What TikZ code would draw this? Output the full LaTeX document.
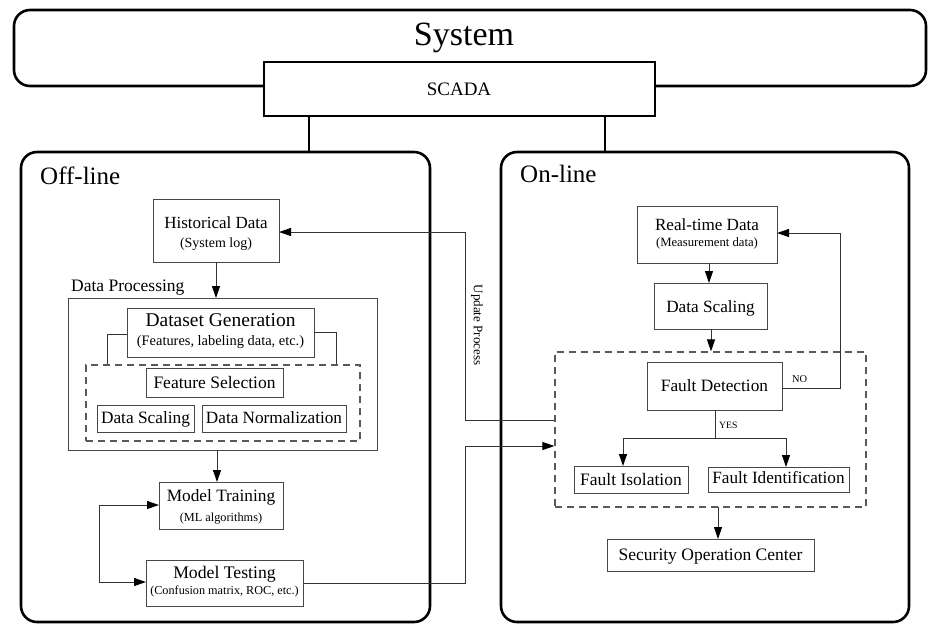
\documentclass[tikz,border=0pt]{standalone}
\usepackage{fontspec}
\setmainfont{Liberation Serif}
\usetikzlibrary{arrows.meta,fit}
\newcommand\fz[1]{\fontsize{#1}{#1}\selectfont}
\begin{document}
\begin{tikzpicture}[x=1pt,y=-1pt,
  outer/.style={draw=black, line width=2.6pt, rounded corners=16pt},
  bx/.style={draw=black!72, line width=1pt, inner sep=0pt, outer sep=0pt, fill=white},
  dbox/.style={draw=black!65, line width=1.2pt, dash pattern=on 7pt off 5pt, inner sep=0pt},
  conn/.style={draw=black!80, line width=1pt},
  arr/.style={conn, -{Triangle[length=12pt,width=8pt,black]}},
  darr/.style={conn, {Triangle[length=12pt,width=8pt,black]}-{Triangle[length=12pt,width=8pt,black]}},
  txt/.style={anchor=base, inner sep=0pt}]
\useasboundingbox (0,0) rectangle (928,625);

% outer structure
\node[outer, inner sep=0pt, fit={(14,10) (926,86)}] (sys) {};
\node[txt, font=\fz{34}] (systxt) at (464,45) {System};
\node[draw=black, line width=2.6pt, fill=white, inner sep=0pt, fit={(264,62) (655,116)}] (scada) {};
\node[txt, font=\fz{19}] (scadatxt) at (459,95) {SCADA};

\node[outer, inner sep=0pt, fit={(21,152) (430,622)}] (off) {};
\node[outer, inner sep=0pt, fit={(501,152) (909,622)}] (on) {};
\node[txt, anchor=base west, font=\fz{25}] (offtxt) at (40,184) {Off-line};
\node[txt, anchor=base west, font=\fz{25}] (ontxt) at (520,182) {On-line};

\coordinate (sl) at (309,116);
\coordinate (sr) at (605,116);
\draw[line width=2.2pt] (sl) -- (sl |- off.north);
\draw[line width=2.2pt] (sr) -- (sr |- on.north);

% off-line
\node[bx, fit={(153,199) (279,262)}] (hd) {};
\node[txt, font=\fz{17}] (hdt1) at (216,228) {Historical Data};
\node[txt, font=\fz{14}] (hdt2) at (216,247) {(System log)};

\node[txt, anchor=base west, font=\fz{17.5}] (dplab) at (71,291) {Data Processing};
\node[bx, fill=none, fit={(68,298) (377,450)}] (dp) {};
\node[dbox, fit={(86,365) (360,441)}] (dd) {};
\node[bx, fit={(127,308) (314,357)}] (dg) {};
\node[txt, font=\fz{19.5}] (dgt1) at (220.5,326) {Dataset Generation};
\node[txt, font=\fz{14.4}] (dgt2) at (220.5,345) {(Features, labeling data, etc.)};
\node[bx, fit={(146,368) (283,397)}] (fs) {};
\node[txt, font=\fz{17.5}] (fst) at (214.5,388) {Feature Selection};
\node[bx, fit={(97,405) (194,432)}] (ds) {};
\node[txt, font=\fz{17.3}] (dst) at (145.5,423) {Data Scaling};
\node[bx, fit={(202,405) (346,432)}] (dn) {};
\node[txt, font=\fz{17.2}] (dnt) at (274,423) {Data Normalization};

\coordinate (dgl) at (107,334);
\coordinate (dgr) at (336,332);
\draw[conn] (dgl -| dg.west) -- (dgl) -- (dgl |- dd.north);
\draw[conn] (dgr -| dg.east) -- (dgr) -- (dgr |- dd.north);

\draw[arr] (hd.south) -- (hd.south |- dp.north);

\node[bx, fit={(159,482) (283,529)}] (mt) {};
\node[txt, font=\fz{17.3}] (mtt1) at (221,501) {Model Training};
\node[txt, font=\fz{12.3}] (mtt2) at (221,521) {(ML algorithms)};
\node[bx, fit={(146,560) (303,606)}] (ms) {};
\node[txt, font=\fz{17.7}] (mst1) at (224.5,578) {Model Testing};
\node[txt, font=\fz{12.2}] (mst2) at (224.5,594) {(Confusion matrix, ROC, etc.)};

\coordinate (dpb) at (217,450);
\draw[arr] (dpb) -- (dpb |- mt.north);
\coordinate (loopt) at (99,505);
\coordinate (loopb) at (99,582);
\draw[darr] (loopt -| mt.west) -- (loopt) -- (loopb) -- (loopb -| ms.west);

% on-line
\node[bx, fit={(637,206) (777,263)}] (rt) {};
\node[txt, font=\fz{17.1}] (rtt1) at (707,230) {Real-time Data};
\node[txt, font=\fz{12.7}] (rtt2) at (707,246) {(Measurement data)};
\node[bx, fit={(654,283) (767,329)}] (ds2) {};
\node[txt, font=\fz{17.2}] (ds2t) at (710.5,312) {Data Scaling};
\node[dbox, fit={(555,352) (866,507)}] (dd2) {};
\node[bx, fit={(647,362) (782,410)}] (fd) {};
\node[txt, font=\fz{17.3}] (fdt) at (714.5,391) {Fault Detection};
\node[bx, fit={(574,466) (688,493)}] (fi) {};
\node[txt, font=\fz{17.5}] (fit) at (631,485) {Fault Isolation};
\node[bx, fit={(708,467) (849,492)}] (fid) {};
\node[txt, font=\fz{17.2}] (fidt) at (778.5,483) {Fault Identification};
\node[bx, fit={(607,539) (814,571)}] (soc) {};
\node[txt, font=\fz{17.5}] (soct) at (710.5,560) {Security Operation Center};

\coordinate (rtb) at (709,263);
\draw[arr] (rtb) -- (rtb |- ds2.north);
\coordinate (dsb) at (711,329);
\draw[arr] (dsb) -- (dsb |- dd2.north);

\coordinate (nor) at (840,388);
\coordinate (noret) at (840,233);
\draw[arr] (nor -| fd.east) -- (nor) -- (noret) -- (noret -| rt.east);
\node[txt, anchor=base west, font=\fz{10.4}] (notxt) at (792,382) {NO};

\coordinate (yb) at (715,438);
\coordinate (yl) at (623,438);
\coordinate (yr) at (786,438);
\draw[conn] (yb |- fd.south) -- (yb);
\draw[conn] (yl) -- (yr);
\draw[arr] (yl) -- (yl |- fi.north);
\draw[arr] (yr) -- (yr |- fid.north);
\node[txt, anchor=base west, font=\fz{9.7}] (yestxt) at (719,428) {YES};

\coordinate (ddb) at (718,507);
\draw[arr] (ddb) -- (ddb |- soc.north);

% cross connections
\coordinate (u1) at (465,420);
\coordinate (u2) at (465,232);
\draw[arr] (u1 -| dd2.west) -- (u1) -- (u2) -- (u2 -| hd.east);
\node[txt, anchor=center, rotate=-90, font=\fz{13}] (uptxt) at (477,325) {Update Process};

\coordinate (m1) at (465,583);
\coordinate (m2) at (465,446);
\draw[arr] (m1 -| ms.east) -- (m1) -- (m2) -- (m2 -| dd2.west);
\end{tikzpicture}
\end{document}
